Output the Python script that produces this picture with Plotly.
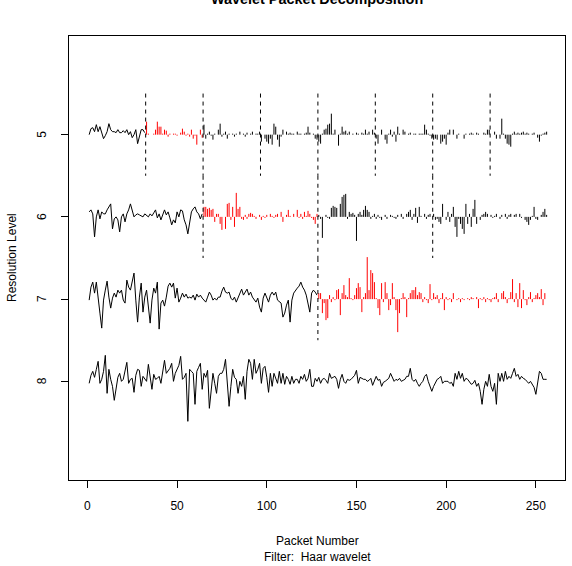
import plotly.graph_objects as go

# ---------------- data (coefficient values) ----------------
# Level 8 (original data, 256 points)
L8 = [-2, 6, 10, 4, 12, 20, -2, 2, 10, 26,
      -12, 12, 2, -5, -19, -5, 4, 8, 0, 2,
      10, 19, -2, 2, 3, -11, 6, 12, 11, -5,
      5, 2, 0, 17, 6, -8, 7, 2, 3, 5,
      -2, 10, 21, 8, 10, 13, 18, 0, 8, 12,
      16, 25, 2, 4, 8, -40, 12, 10, 8, -23,
      10, 14, 18, -8, 8, 4, 11, -27, -5, 8,
      -2, -12, 5, 8, 8, 12, 22, -2, -25, -5,
      12, 4, 2, -12, 0, -5, 5, -18, 10, 22,
      18, 2, 22, 8, 12, 18, -2, 13, 15, 4,
      -11, 8, -5, 8, 2, -2, 10, -2, 8, -3,
      5, 2, -3, 5, -2, 2, 2, -2, 5, 2,
      7, 0, 3, 12, -5, -5, 3, 0,
      4, -2, 2, 3, 1, -2, 8, 3, 4, 5,
      2, -7, 2, 7, 0, -2, 2, 1, 2, 4,
      6, 11, -2, 4, 3, 2, 2, 0, 1, 3,
      -4, 0, 5, 1, 2, -5, -1, 0, 2, 3,
      8, 4, 0, 2, 1, 3, 0, 1, 2, 5,
      5, 13, 2, 0, 2, -2, -5, -2, 0, 5,
      7, 0, -5, -10, -5, -1, 2, 3, 5, -2,
      0, 0, 0, -2, -1, -5, 8, 2, 10, 3,
      8, 0, 3, 2, 0, -3, -2, 1, -5, -2,
      -10, -23, -8, 0, -5, 7, -5, -10, -2, -23,
      8, 0, 8, 0, 10, 2, 5, 3, 8, 13,
      5, 7, 2, 5, 3, 2, 0, -2, 0, -3,
      -6, -13, 0, 10, 8, 2, 2, 2]

# Level 7: packet 0 (smooth, drawn as a line) and packet 1 (highlighted)
L7_SMOOTH = [-1, 12, 17, 6, 17, -1, -14, -29, -1, 9,
             18, 2, -9, 1, 6, 2, 9, 6, 9, -1,
             -4, 19, 12, 9, 17, 26, -1, -23, 2, 16,
             -13, 2, 9, -11, -24, -1, 11, 6, 17, -30,
             -4, -1, -7, 2, 13, 16, 12, 16, 1, 11,
             -3, 1, 6, 2, 5, 1, 2, 1, 4, -1,
             5, 2, 4, 1, -1, -3, 2, 7, 4, -1,
             1, -1, 2, 2, 8, 12, 7, 6, 7, 1,
             -1, 2, -3, 2, 6, 10, 4, 7, 10, 4,
             7, 2, -1, -3, 1, -8, -13, 1, 6, 1,
             -3, 4, 7, 4, 7, -1, -3, -4, -18, -14,
             -6, -1, -23, -1, 6, 9, 11, 13, 17, 12,
             9, 4, -4, -13, 6, 9, 7, 4]
L7_P1 = [6, 6, -14, -4, -21, -19, 4, -3, 2, -1,
         9, 10, -16, 6, 14, 4, 2, 21, 1, -1,
         4, 11, 16, 12, -13, 2, 6, 42, 9, 29,
         26, 17, 1, -9, -16, 16, -3, 17, 6, -11,
         -6, 16, 2, -11, -33, -14, 1, 6, 2, -18,
         1, 6, 9, 9, 12, 4, 7, 6, -3, 2,
         -1, -4, 15, -1, 6, 2, 4, -4, 1, 6,
         -11, 2, -1, 1, -3, 6, 0, -1, 1, -3,
         1, -1, 0, 1, -1, 2, 1, 0, 2, -9,
         1, -1, 2, -3, 1, -1, -3, 1, 2, 6,
         -3, 0, 6, 8, 2, -4, 1, 7, 20, -3,
         6, -8, 16, -9, 9, -1, -6, 2, 7, -3,
         1, 4, 6, 2, 10, -6, 6, 0]

# Level 6: packet 0 (line), packet 1 (highlighted), packets 2-3
L6_SMOOTH = [5, 7, 3, -20, 0, 7, -2, 5, 3, 3,
             7, 10, 13, -12, -2, 0, -3, -15, 0, 3,
             -5, 3, 7, 13, 7, 0, 2, 3, 2, 1,
             0, 3, 1, 0, 3, 1, 4, 7, -1, 3,
             -3, 3, 7, 2, 5, -1, -8, -3, -6, 5,
             0, 7, 6, -3, -8, -17, -5, 5, 8, 10,
             5, 3, -2, 3]
L6_P1 = [10, 10, 8, 9, 7, 8, -5, 3, 3, -7,
         -13, 0, -12, 13, 14, -3, 10, -10, 24, 8,
         10, -2, -3, 2, -2, 3, 4, 3, 1, -2,
         0, 2, -3, 1, -1, 2, 0, 3, 1, -1,
         2, 3, 0, 5, -5, 0, 2, 7, 1, 0,
         3, 0, 7, -1, 3, -2, 5, 1, 6, 3,
         -1, -3, -7, 3]
L6_REST = [2, -2, -21, 0, 2, -1, -2, 9, 11, 10,
           9, 0, 13, 20, 22, 23, -2, 5, 3, 4,
           2, -24, 3, 5, 2, 7, 11, 7, 5, -2,
           1, 3, -2, 2, -1, -3, 0, 2, -2, 0,
           2, 1, -1, -2, 2, 0, 3, -2, 0, 3,
           5, 7, -3, 3, 9, -6, 10, 1, 0, 3,
           -2, 2, 3, 0, 3, -3, -2, -5, -7, 13,
           0, -3, 5, -5, 3, 10, -10, -20, -2, -7,
           -12, -17, 13, -7, 3, -10, 8, 17, -7, 0,
           -3, 2, 3, 5, 3, 0, 2, -1, 1, 3,
           0, -2, 2, 0, 3, -2, 2, 3, 0, 2,
           3, 0, 3, -1, 0, -3, -5, -8, -3, 1,
           10, -2, -3, 0, 2, 5, 8, 2]

# Level 5: packet 0 (line), packet 1 (highlighted), packets 2-7
L5_SMOOTH = [0, 6, 7, 3, 10, 3, 8, 1, -4, -1,
             3, 11, 5, 3, 3, 2, 5, 2, 2, 4,
             2, 5, 0, 3, -3, 0, 5, -9, -1, 5,
             5, 2]
L5_P1 = [13, 1, 0, 0, 1, 5, 13, 8, 8, 1,
         5, 4, -2, 1, 0, 1, 1, -1, 0, 2,
         6, 3, -1, 1, -2, 5, -4, -1, -10, 0,
         5, -3]
L5_REST = [10, -4, 1, 3, -1, -5, 1, 0, 5, 11,
           -2, 1, 3, -4, 1, 0, 1, -2, 1, 0,
           3, 0, 1, -2, 2, 0, 1, 3, 0, 1,
           1, 3, -7, 0, -4, -7, -9, -4, -10, 11,
           8, -5, -12, -2, 5, 0, 3, 1, 2, 1,
           1, 0, 3, 1, 1, 0, 1, 2, 8, 2,
           0, 1, -4, -5, -7, -9, 1, 5, 6, 10,
           11, 21, 1, 5, 0, -11, 1, 8, 3, 4,
           1, 3, 0, 1, 0, 2, 1, 0, 2, 1,
           5, 1, 3, 0, 5, 2, -4, -9, 0, 5,
           0, -5, -9, 1, 5, -2, 3, -7, 8, 1,
           0, 5, 3, 0, 1, 2, 0, 1, 1, 0,
           1, 1, 1, 10, 5, 1, -1, -4, -5, -4,
           -5, 0, -9, -7, -4, -10, 2, 5, 0, 5,
           0, -4, 1, 0, 0, -4, 1, 0, 1, 2,
           1, 0, 2, 1, 0, 0, 2, 1, 5, 5,
           0, 0, 3, -4, 0, -4, 16, 1, -4, -9,
           -10, -12, 1, 3, 1, 2, 1, 2, 3, 1,
           2, 1, 0, 1, 2, 0, -3, -7, -1, 1,
           2, 3]

# packet boundaries (dashed separators) per level
DIVIDERS = {5: [32, 64, 96, 128, 160, 192, 224], 6: [64, 128, 192], 7: [128]}
LEVEL_TICKS = [5, 6, 7, 8]
X_TICKS = [0, 50, 100, 150, 200, 250]
N = 256

# --------------- styling ---------------
SCALE = 1 / 82.2        # value units -> resolution-level units
BLACK = "#000000"
RED = "#FF0000"
FONT = "Liberation Sans, Arial, Helvetica, sans-serif"

fig = go.Figure()


def add_line(level, start, vals, color):
    fig.add_trace(go.Scatter(
        x=list(range(start, start + len(vals))),
        y=[level - v * SCALE for v in vals],
        mode="lines", line=dict(color=color, width=1), hoverinfo="skip"))


def add_bars(level, start, vals, color):
    xs, ys = [], []
    for k, v in enumerate(vals):
        xi = start + k
        xs += [xi, xi, None]
        ys += [level, level - v * SCALE, None]
    fig.add_trace(go.Scatter(x=xs, y=ys, mode="lines",
                             line=dict(color=color, width=1), hoverinfo="skip"))


# level 8
add_line(8, 1, L8, BLACK)
# level 7
add_line(7, 1, L7_SMOOTH, BLACK)
add_bars(7, 129, L7_P1, RED)
# level 6
add_line(6, 1, L6_SMOOTH, BLACK)
add_bars(6, 65, L6_P1, RED)
add_bars(6, 129, L6_REST, BLACK)
# level 5
add_line(5, 1, L5_SMOOTH, BLACK)
add_bars(5, 33, L5_P1, RED)
add_bars(5, 65, L5_REST, BLACK)

# dashed separators
for lev, bounds in DIVIDERS.items():
    xs, ys = [], []
    for b in bounds:
        xs += [b + 0.5, b + 0.5, None]
        ys += [lev - 0.5, lev + 0.5, None]
    fig.add_trace(go.Scatter(x=xs, y=ys, mode="lines",
                             line=dict(color=BLACK, width=1, dash="4px,4px"),
                             hoverinfo="skip"))

axis_common = dict(showline=True, linecolor=BLACK, linewidth=1, mirror=True,
                   showgrid=False, zeroline=False, ticks="outside", ticklen=7,
                   tickcolor=BLACK, tickwidth=1,
                   tickfont=dict(family=FONT, size=12, color=BLACK))

annotations = [
    dict(text="<b>Wavelet Packet Decomposition</b>", xref="paper", yref="paper",
         x=0.5, y=(480 + 1) / 444, xanchor="center", yanchor="middle",
         showarrow=False, font=dict(family=FONT, size=14.4, color=BLACK)),
    dict(text="Packet Number", xref="paper", yref="paper",
         x=0.5, y=(480 - 541) / 444, xanchor="center", yanchor="middle",
         showarrow=False, font=dict(family=FONT, size=12, color=BLACK)),
    dict(text="Filter:  Haar wavelet", xref="paper", yref="paper",
         x=0.5, y=(480 - 557) / 444, xanchor="center", yanchor="middle",
         showarrow=False, font=dict(family=FONT, size=12, color=BLACK)),
    dict(text="Resolution Level", xref="paper", yref="paper",
         x=(12 - 69) / 496, y=0.5, xanchor="center", yanchor="middle",
         textangle=-90, showarrow=False,
         font=dict(family=FONT, size=12, color=BLACK)),
]
# y tick labels, rotated as in the original (parallel to the axis)
for lv in LEVEL_TICKS:
    annotations.append(dict(text=str(lv), xref="paper", yref="y",
                            x=(42 - 69) / 496, y=lv, xanchor="center",
                            yanchor="middle", textangle=-90, showarrow=False,
                            font=dict(family=FONT, size=12, color=BLACK)))

fig.update_layout(
    width=572, height=566,
    margin=dict(l=69, r=7, t=36, b=86),
    plot_bgcolor="white", paper_bgcolor="white",
    showlegend=False,
    xaxis=dict(range=[-0.04 * N, 1.04 * N], tickvals=X_TICKS,
               ticktext=[str(v) for v in X_TICKS], ticklabelstandoff=8,
               **axis_common),
    yaxis=dict(range=[9.2, 3.8], tickvals=LEVEL_TICKS, showticklabels=False,
               **axis_common),
    annotations=annotations,
)

fig.write_html("out.html", config={"displayModeBar": False})
